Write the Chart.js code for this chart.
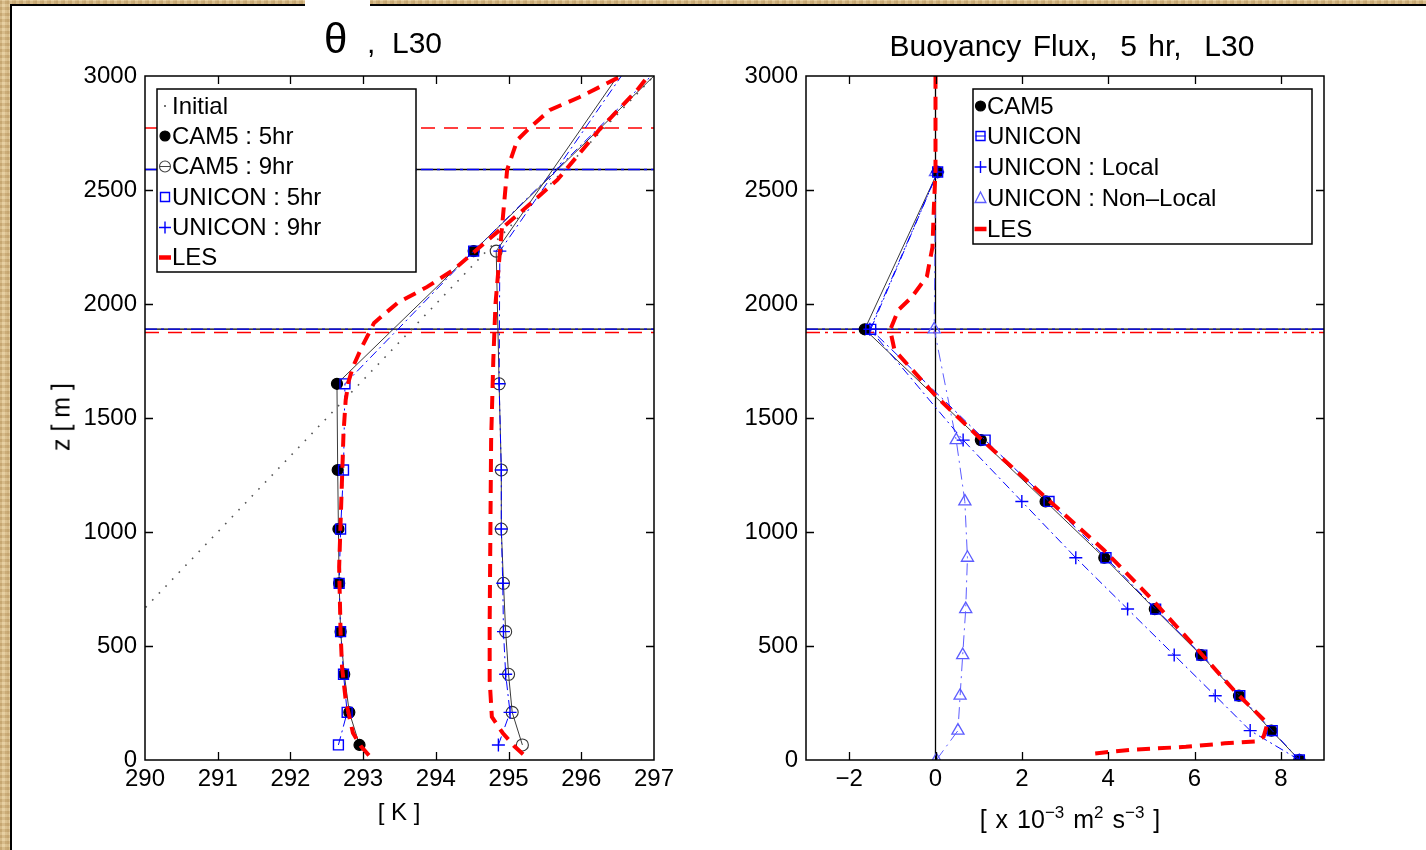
<!DOCTYPE html>
<html><head><meta charset="utf-8">
<script src="https://cdn.jsdelivr.net/npm/chart.js@4.4.0/dist/chart.umd.min.js"></script>
<style>
html,body{margin:0;padding:0;}
body{width:1426px;height:850px;position:relative;overflow:hidden;font-family:"Liberation Sans",Arial,sans-serif;
 background:#dcc08e;
 background-image:repeating-linear-gradient(90deg,rgba(150,110,50,0.18) 0 2px,rgba(255,240,200,0.15) 2px 5px,rgba(160,120,60,0.12) 5px 7px),
 repeating-linear-gradient(0deg,rgba(140,100,40,0.15) 0 3px,rgba(255,245,210,0.2) 3px 6px);}
#panel{position:absolute;left:10px;top:4px;right:0;bottom:0;background:#fff;border-left:2px solid #000;border-top:2px solid #000;}
.patch{position:absolute;left:305px;top:0;width:65px;height:76px;background:#fff;}
.t{position:absolute;white-space:pre;line-height:1;color:#000;}
.rot{transform:translate(-50%,-50%) rotate(-90deg);}
.ctr{transform:translateX(-50%);}
sup{font-size:0.68em;vertical-align:0.6em;line-height:0;}
canvas{position:absolute;top:0;}
</style></head>
<body>
<div id="panel"></div>
<div class="patch"></div>
<canvas id="c1" width="700" height="850" style="left:0px"></canvas>
<canvas id="c2" width="726" height="850" style="left:700px"></canvas>

<div class="t" style="left:324px;top:18px;font-size:42px">θ</div>
<div class="t" style="left:367px;top:28px;font-size:30px">,  L30</div>
<div class="t ctr" style="left:1072px;top:31px;font-size:30px;word-spacing:3px">Buoyancy Flux,  5 hr,  L30</div>
<div class="t rot" style="left:61px;top:417px;font-size:25px">z [ m ]</div>
<div class="t ctr" style="left:399px;top:800px;font-size:24px">[ K ]</div>
<div class="t ctr" style="left:1070px;top:807px;font-size:25px;word-spacing:2px">[ x 10<sup>−3</sup> m<sup>2</sup> s<sup>−3</sup> ]</div>

<script>
// ---------------- DATA ----------------
// Left panel: potential temperature [K] vs height z [m]
const thetaMin = 290, thetaMax = 297;
const zMin = 0, zMax = 3000;
const thetaTicks = [290, 291, 292, 293, 294, 295, 296, 297];
const zTicks = [0, 500, 1000, 1500, 2000, 2500, 3000];

const zMid = [66, 209, 376, 563, 775, 1013, 1272, 1650, 2232, 3050];
const thCam5_5hr = [292.95, 292.81, 292.74, 292.69, 292.67, 292.66, 292.65, 292.64, 294.52, 297.16];
const thCam5_9hr = [295.19, 295.05, 295.00, 294.96, 294.93, 294.90, 294.90, 294.87, 294.83, 296.61];
const thUni_5hr  = [292.66, 292.78, 292.73, 292.69, 292.67, 292.69, 292.73, 292.75, 294.52, 297.12];
const thUni_9hr  = [294.86, 295.02, 294.96, 294.93, 294.92, 294.90, 294.90, 294.87, 294.88, 296.66];

const zInitial = [0, 3000];
const thInitial = [288, 297];

const zLes5 = [20, 60, 118, 263, 408, 557, 847, 1140, 1434, 1579, 1660, 1724, 1810, 1917, 2004, 2075, 2149, 2224, 2412, 2544, 2765, 2939, 3000];
const thLes5 = [293.08, 292.97, 292.86, 292.76, 292.71, 292.69, 292.67, 292.70, 292.73, 292.76, 292.80, 292.86, 292.98, 293.15, 293.47, 293.88, 294.24, 294.51, 295.20, 295.67, 296.25, 296.77, 296.92];
const zLes9 = [25, 60, 118, 189, 350, 600, 1000, 1400, 1754, 2000, 2338, 2588, 2719, 2776, 2851, 2908, 2982, 3000];
const thLes9 = [295.20, 295.08, 294.92, 294.77, 294.74, 294.74, 294.75, 294.76, 294.79, 294.82, 294.91, 294.98, 295.12, 295.30, 295.57, 295.98, 296.44, 296.55];

// PBL heights [m]
const pblModel5 = 1890, pblModel9 = 2590, pblLes5 = 1875, pblLes9 = 2772;

// Right panel: buoyancy flux [1e-3 m2 s-3] vs z
const bfMin = -3, bfMax = 9;
const bfTicks = [-2, 0, 2, 4, 6, 8];
const zInt = [0, 129, 282, 460, 662, 887, 1134, 1403, 1889, 2579];
const bfCam5 = [8.43, 7.78, 7.03, 6.15, 5.08, 3.91, 2.55, 1.05, -1.64, 0.05];
const bfUni = [8.43, 7.80, 7.05, 6.17, 5.10, 3.95, 2.63, 1.15, -1.50, 0.05];
const bfUniLocal = [8.43, 7.29, 6.48, 5.53, 4.45, 3.25, 2.00, 0.64, -1.52, 0.05];
const bfUniNonLocal = [0.02, 0.52, 0.57, 0.63, 0.70, 0.74, 0.68, 0.48, -0.03, 0.00];
const zLesBf = [29, 44, 58, 73, 82, 102, 161, 292, 497, 716, 921, 1133, 1403, 1594, 1798, 1886, 1974, 2030, 2120, 2250, 2412, 2588, 3000];
const bfLes = [3.70, 4.50, 5.80, 6.70, 7.45, 7.60, 7.69, 6.98, 6.01, 4.96, 3.90, 2.66, 1.08, 0.02, -0.95, -1.05, -0.86, -0.55, -0.20, -0.07, -0.04, 0.00, 0.00];
const pblLesBf = 1875;

// ---------------- HELPERS ----------------
const pts = (xs, ys) => xs.map((v, i) => ({x: v, y: ys[i]}));
const hline = (z, x0, x1) => [{x: x0, y: z}, {x: x1, y: z}];
const vline = (x, z0, z1) => [{x: x, y: z0}, {x: x, y: z1}];

const FS = 24;
Chart.defaults.font.family = '"Liberation Sans", Arial, sans-serif';
Chart.defaults.font.size = FS;
Chart.defaults.color = '#000';
Chart.defaults.animation = false;

const BLACK = '#3a3a3a', BLUE = '#0000ff', RED = '#ff0000', LBLUE = '#5c5cff';
const DASHDOT = [9, 4, 2, 4];
const LESDASH = [13, 8];

function drawMarker(ctx, style, x, y, c) {
  ctx.save();
  const stroke = c.stroke || '#000';
  const lw = c.lw || 1.2;
  if (c.line) {
    ctx.beginPath(); ctx.moveTo(x - c.line, y); ctx.lineTo(x + c.line, y);
    ctx.lineWidth = 1; ctx.strokeStyle = c.lineC || stroke; ctx.stroke();
  }
  ctx.strokeStyle = stroke;
  ctx.lineWidth = lw;
  ctx.beginPath();
  const r = c.r || 5;
  if (style === 'circle') {
    ctx.arc(x, y, r, 0, Math.PI * 2);
    if (c.fill) { ctx.fillStyle = c.fill; ctx.fill(); }
    ctx.stroke();
  } else if (style === 'rect') {
    ctx.rect(x - r, y - r, 2 * r, 2 * r); ctx.stroke();
  } else if (style === 'cross') {
    ctx.moveTo(x - r, y); ctx.lineTo(x + r, y); ctx.moveTo(x, y - r); ctx.lineTo(x, y + r); ctx.stroke();
  } else if (style === 'triangle') {
    ctx.moveTo(x, y - r); ctx.lineTo(x + r * 0.9, y + r * 0.75); ctx.lineTo(x - r * 0.9, y + r * 0.75); ctx.closePath(); ctx.stroke();
  } else if (style === 'dot') {
    ctx.arc(x, y, 1, 0, Math.PI * 2); ctx.fillStyle = '#444'; ctx.fill();
  } else if (style === 'dash') {
    ctx.moveTo(x - 6, y); ctx.lineTo(x + 6, y); ctx.lineWidth = 4.5; ctx.strokeStyle = RED; ctx.stroke();
  }
  ctx.restore();
}

// legend layouts (kept outside Chart options to avoid option resolution)
const LEGENDS = {
  c1: {
    x0: 157, y0: 89, x1: 416, y1: 272, mx: 165, tx: 172,
    rowY: [106, 136, 166.5, 197, 227.5, 257.5],
    items: [
      {ds: 6, style: 'dot'},
      {ds: 5, style: 'circle', r: 5, fill: '#000', stroke: '#000'},
      {ds: 4, style: 'circle', r: 5.5, stroke: '#444', lw: 1.1, line: 6, lineC: '#444'},
      {ds: 3, style: 'rect', r: 4.5, stroke: BLUE, lw: 1.4},
      {ds: 2, style: 'cross', r: 6, stroke: BLUE, lw: 1.4},
      {ds: 0, style: 'dash'}
    ]
  },
  c2: {
    x0: 273, y0: 89, x1: 612, y1: 244, mx: 280.5, tx: 287,
    rowY: [106, 136, 167, 198, 229],
    items: [
      {ds: 3, style: 'circle', r: 5, fill: '#000', stroke: '#000'},
      {ds: 2, style: 'rect', r: 4.5, stroke: BLUE, lw: 1.4, line: 5, lineC: BLUE},
      {ds: 1, style: 'cross', r: 6, stroke: BLUE, lw: 1.4},
      {ds: 4, style: 'triangle', r: 6, stroke: LBLUE, lw: 1.3},
      {ds: 0, style: 'dash'}
    ]
  }
};

const framePlugin = {
  id: 'frameTicks',
  afterDatasetsDraw(chart) {
    const {ctx, chartArea: a} = chart;
    const x = chart.scales.x, y = chart.scales.y;
    ctx.save();
    ctx.strokeStyle = '#000';
    ctx.lineWidth = 1.5;
    ctx.strokeRect(a.left, a.top, a.right - a.left, a.bottom - a.top);
    ctx.lineWidth = 1.3;
    const L = 8;
    ctx.beginPath();
    x.ticks.forEach(t => {
      const p = Math.round(x.getPixelForValue(t.value)) + 0.5;
      if (p <= a.left + 2 || p >= a.right - 2) return;
      ctx.moveTo(p, a.bottom); ctx.lineTo(p, a.bottom - L);
      ctx.moveTo(p, a.top); ctx.lineTo(p, a.top + L);
    });
    y.ticks.forEach(t => {
      const p = Math.round(y.getPixelForValue(t.value)) + 0.5;
      if (p <= a.top + 2 || p >= a.bottom - 2) return;
      ctx.moveTo(a.left, p); ctx.lineTo(a.left + L, p);
      ctx.moveTo(a.right, p); ctx.lineTo(a.right - L, p);
    });
    ctx.stroke();
    ctx.restore();
  },
  afterDraw(chart) {
    const lg = LEGENDS[chart.canvas.id];
    if (!lg) return;
    const ctx = chart.ctx;
    ctx.save();
    ctx.fillStyle = '#fff';
    ctx.fillRect(lg.x0, lg.y0, lg.x1 - lg.x0, lg.y1 - lg.y0);
    ctx.strokeStyle = '#000';
    ctx.lineWidth = 1.5;
    ctx.strokeRect(lg.x0, lg.y0, lg.x1 - lg.x0, lg.y1 - lg.y0);
    ctx.font = FS + 'px "Liberation Sans", Arial, sans-serif';
    ctx.textBaseline = 'middle';
    lg.items.forEach((it, i) => {
      const yy = lg.rowY[i];
      const ds = chart.data.datasets[it.ds];
      drawMarker(ctx, it.style, lg.mx, yy, it);
      ctx.fillStyle = '#000';
      ctx.fillText(ds.label, lg.tx, yy + 1);
    });
    ctx.restore();
  }
};

function lineDs(label, data, o) {
  return Object.assign({
    label, data, showLine: true, fill: false, tension: 0,
    borderWidth: 1, borderColor: BLACK, pointRadius: 0, pointHoverRadius: 0,
    pointBorderWidth: 1.2, pointBackgroundColor: 'transparent'
  }, o);
}

function axes(xmin, xmax, xticks, yW, xH) {
  return {
    x: {
      type: 'linear', min: xmin, max: xmax,
      afterBuildTicks: s => { s.ticks = xticks.map(v => ({value: v})); },
      grid: {display: false, drawTicks: false},
      border: {display: false},
      ticks: {padding: 5, font: {size: FS}, color: '#000', callback: v => (v < 0 ? '\u2212' + Math.abs(v) : String(v))},
      afterFit: s => { s.height = xH; }
    },
    y: {
      type: 'linear', min: zMin, max: zMax,
      afterBuildTicks: s => { s.ticks = zTicks.map(v => ({value: v})); },
      grid: {display: false, drawTicks: false},
      border: {display: false},
      ticks: {padding: 8, font: {size: FS}, color: '#000', callback: v => String(v)},
      afterFit: s => { s.width = yW; }
    }
  };
}

// ---------------- LEFT CHART ----------------
new Chart(document.getElementById('c1'), {
  type: 'scatter',
  data: {
    datasets: [
      lineDs('LES', pts(thLes5, zLes5), {borderColor: RED, borderWidth: 4, borderDash: LESDASH}),
      lineDs('LES 9hr', pts(thLes9, zLes9), {borderColor: RED, borderWidth: 4, borderDash: LESDASH}),
      lineDs('UNICON : 9hr', pts(thUni_9hr, zMid), {borderColor: BLUE, borderDash: DASHDOT, pointStyle: 'cross', pointRadius: 6.5, pointBorderColor: BLUE, pointBorderWidth: 1.4}),
      lineDs('UNICON : 5hr', pts(thUni_5hr, zMid), {borderColor: BLUE, borderDash: DASHDOT, pointStyle: 'rect', pointRadius: 7, pointBorderColor: BLUE, pointBorderWidth: 1.4}),
      lineDs('CAM5 : 9hr', pts(thCam5_9hr, zMid), {pointStyle: 'circle', pointRadius: 6, pointBorderColor: '#333', pointBorderWidth: 1.1}),
      lineDs('CAM5 : 5hr', pts(thCam5_5hr, zMid), {pointStyle: 'circle', pointRadius: 5.5, pointBorderColor: '#000', pointBackgroundColor: '#000'}),
      lineDs('Initial', pts(thInitial, zInitial), {borderColor: '#555', borderWidth: 1.6, borderDash: [1.6, 8]}),
      lineDs('pbl les 5', hline(pblLes5, thetaMin, thetaMax), {borderColor: RED, borderWidth: 1.5, borderDash: [14, 9]}),
      lineDs('pbl les 9', hline(pblLes9, thetaMin, thetaMax), {borderColor: RED, borderWidth: 1.5, borderDash: [14, 9]}),
      lineDs('pbl uni 5', hline(pblModel5, thetaMin, thetaMax), {borderColor: BLUE, borderWidth: 1.3, borderDash: [12, 4, 3, 4]}),
      lineDs('pbl uni 9', hline(pblModel9, thetaMin, thetaMax), {borderColor: BLUE, borderWidth: 1.3, borderDash: [12, 4, 3, 4]}),
      lineDs('pbl cam 5', hline(pblModel5, thetaMin, thetaMax), {borderColor: '#000', borderWidth: 1.3}),
      lineDs('pbl cam 9', hline(pblModel9, thetaMin, thetaMax), {borderColor: '#000', borderWidth: 1.3})
    ]
  },
  options: {
    responsive: false,
    layout: {padding: {top: 76, right: 46, left: 0, bottom: 0}},
    scales: axes(thetaMin, thetaMax, thetaTicks, 145, 90),
    plugins: {legend: {display: false}, tooltip: {enabled: false}}
  },
  plugins: [framePlugin]
});

// ---------------- RIGHT CHART ----------------
new Chart(document.getElementById('c2'), {
  type: 'scatter',
  data: {
    datasets: [
      lineDs('LES', pts(bfLes, zLesBf), {borderColor: RED, borderWidth: 4, borderDash: LESDASH}),
      lineDs('UNICON : Local', pts(bfUniLocal, zInt), {borderColor: BLUE, borderDash: DASHDOT, pointStyle: 'cross', pointRadius: 6.5, pointBorderColor: BLUE, pointBorderWidth: 1.4}),
      lineDs('UNICON', pts(bfUni, zInt), {borderColor: BLUE, borderDash: DASHDOT, pointStyle: 'rect', pointRadius: 7, pointBorderColor: BLUE, pointBorderWidth: 1.4}),
      lineDs('CAM5', pts(bfCam5, zInt), {pointStyle: 'circle', pointRadius: 5.5, pointBorderColor: '#000', pointBackgroundColor: '#000'}),
      lineDs('UNICON : Non\u2013Local', pts(bfUniNonLocal, zInt), {borderColor: LBLUE, borderDash: [12, 5, 2, 5], pointStyle: 'triangle', pointRadius: 7, pointBorderColor: LBLUE, pointBorderWidth: 1.3}),
      lineDs('pbl les', hline(pblLesBf, bfMin, bfMax), {borderColor: RED, borderWidth: 1.5, borderDash: [14, 5, 3, 5]}),
      lineDs('pbl uni', hline(pblModel5, bfMin, bfMax), {borderColor: BLUE, borderWidth: 1.3, borderDash: [12, 4, 3, 4]}),
      lineDs('pbl cam', hline(pblModel5, bfMin, bfMax), {borderColor: '#000', borderWidth: 1.3}),
      lineDs('zero', vline(0, zMin, zMax), {borderColor: '#000', borderWidth: 1.3})
    ]
  },
  options: {
    responsive: false,
    layout: {padding: {top: 76, right: 102, left: 0, bottom: 0}},
    scales: axes(bfMin, bfMax, bfTicks, 106, 90),
    plugins: {legend: {display: false}, tooltip: {enabled: false}}
  },
  plugins: [framePlugin]
});
</script>
</body></html>
